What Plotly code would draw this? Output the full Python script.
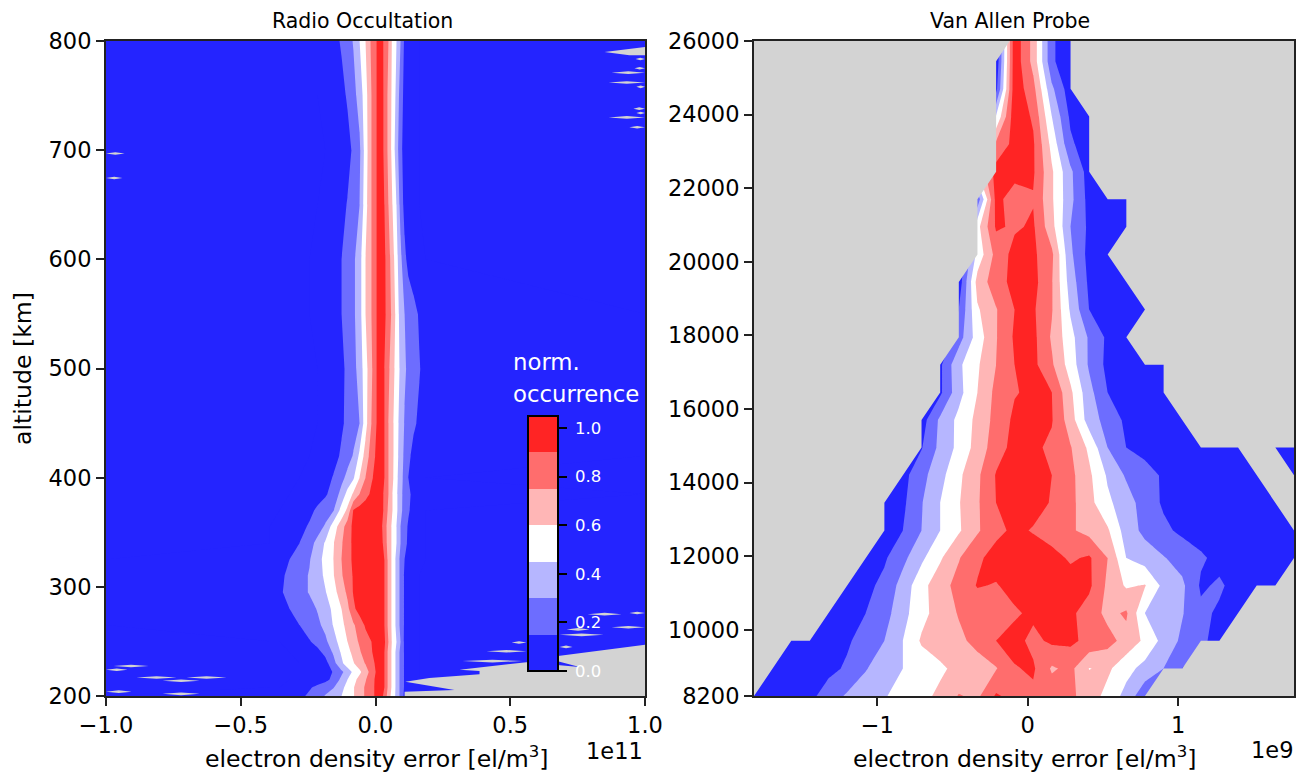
import plotly.graph_objects as go

# ---------- shared ----------
band_colors = ["#2424ff", "#6d6dff", "#b6b6ff", "#ffffff", "#ffb6b6", "#ff6d6d", "#ff2424"]
gray = "#d3d3d3"
cbar_ticks = [0.0, 0.2, 0.4, 0.6, 0.8, 1.0]
title_left = "Radio Occultation"
title_right = "Van Allen Probe"
xlabel = "electron density error [el/m<sup>3</sup>]"
ylabel = "altitude [km]"

# ---------- left panel: radio occultation (x in 1e11 el/m3) ----------
ro_x = [-1.0, -0.393, -0.356, -0.319, -0.282, -0.245, -0.215, -0.186, -0.156, -0.126, -0.104, -0.082, -0.059, -0.037,
        -0.015, 0.004, 0.019, 0.033, 0.048, 0.063, 0.078, 0.093, 0.108, 0.122, 0.141, 0.163, 0.186, 1.0]
ro_alt = [200, 208, 215, 222, 230, 240, 250, 265, 280, 295, 310, 325, 340, 355, 370, 385, 400, 420, 450, 500, 550,
          600, 650, 700, 750, 800]
ro_z = [
    [0, .01, .03, .07, .11, .18, .24, .31, .38, .45, .52, .59, .68, .77, .85, .94, .98, .85, .68, .53, .41, .26, .11, .05, .02, 0, 0, 0],
    [0, 0, 0, .01, .06, .13, .19, .24, .29, .41, .50, .59, .68, .77, .85, .94, 1.0, .90, .71, .56, .41, .26, .13, .06, .02, 0, 0, 0],
    [0, 0, 0, 0, 0, .02, .06, .11, .19, .34, .45, .55, .65, .74, .84, .94, 1.0, .90, .71, .56, .41, .26, .13, .06, .02, 0, 0, 0],
    [0, 0, 0, 0, 0, .01, .05, .09, .16, .27, .37, .48, .57, .68, .81, .92, 1.0, .90, .71, .56, .41, .26, .13, .06, .02, 0, 0, 0],
    [0, 0, 0, 0, 0, .02, .05, .10, .25, .42, .53, .59, .68, .76, .84, .94, 1.0, .90, .71, .56, .41, .26, .13, .06, .02, 0, 0, 0],
    [0, 0, 0, 0, .02, .07, .11, .19, .32, .47, .55, .64, .73, .82, .89, .95, 1.0, .90, .71, .56, .41, .26, .13, .06, .02, 0, 0, 0],
    [0, 0, 0, .01, .06, .14, .20, .27, .39, .52, .60, .69, .77, .84, .90, .96, 1.0, .93, .75, .57, .45, .30, .12, .05, .02, 0, 0, 0],
    [0, .01, .05, .10, .15, .22, .27, .34, .46, .56, .65, .73, .82, .92, .97, 1.0, .97, .90, .71, .56, .41, .26, .13, .06, .02, 0, 0, 0],
    [0, .03, .09, .15, .20, .25, .31, .39, .48, .60, .71, .87, .96, 1.0, 1.0, 1.0, .97, .90, .71, .56, .41, .26, .13, .06, .02, 0, 0, 0],
    [0, .05, .13, .19, .25, .31, .37, .44, .55, .67, .78, .91, .96, 1.0, 1.0, 1.0, .97, .90, .71, .56, .41, .26, .13, .06, .02, 0, 0, 0],
    [0, .04, .12, .18, .25, .31, .38, .48, .59, .73, .84, .91, .96, 1.0, 1.0, 1.0, .97, .90, .71, .56, .41, .26, .13, .06, .02, 0, 0, 0],
    [0, .02, .08, .15, .22, .29, .39, .50, .60, .75, .86, .92, .96, .99, 1.0, 1.0, .97, .90, .71, .56, .41, .26, .15, .08, .04, .01, 0, 0],
    [0, 0, .03, .09, .15, .25, .34, .47, .59, .73, .86, .92, .96, .99, 1.0, 1.0, .97, .85, .68, .57, .45, .30, .20, .12, .06, .02, 0, 0],
    [0, 0, .01, .05, .10, .17, .24, .32, .53, .68, .83, .93, .96, .98, 1.0, 1.0, .95, .83, .68, .57, .45, .30, .21, .13, .07, .02, 0, 0],
    [0, 0, 0, .01, .05, .11, .18, .23, .29, .51, .63, .91, .96, 1.0, 1.0, 1.0, .97, .87, .72, .60, .48, .34, .24, .17, .09, .03, 0, 0],
    [0, 0, 0, 0, .01, .04, .08, .13, .21, .35, .50, .62, .75, .84, .93, .97, .98, .87, .75, .60, .48, .34, .25, .19, .10, .04, .01, 0],
    [0, 0, 0, 0, 0, .02, .06, .10, .16, .26, .34, .43, .60, .75, .88, .95, .98, .90, .75, .63, .49, .36, .25, .15, .07, .02, 0, 0],
    [0, 0, 0, 0, 0, 0, .01, .05, .10, .17, .24, .31, .48, .66, .82, .93, .98, .90, .75, .63, .51, .37, .27, .19, .10, .04, .01, 0],
    [0, 0, 0, 0, 0, 0, 0, .03, .08, .13, .18, .24, .30, .54, .75, .90, .98, .90, .75, .63, .51, .39, .29, .24, .18, .12, .06, 0],
    [0, 0, 0, 0, 0, 0, 0, .03, .07, .12, .18, .25, .36, .54, .72, .90, .98, .90, .78, .66, .54, .42, .32, .27, .22, .16, .09, 0],
    [0, 0, 0, 0, 0, 0, .01, .04, .09, .15, .21, .27, .39, .60, .75, .90, .96, .93, .83, .71, .55, .38, .30, .26, .21, .13, .06, 0],
    [0, 0, 0, 0, 0, 0, .01, .04, .09, .15, .21, .27, .39, .60, .75, .90, .96, .93, .81, .67, .50, .34, .19, .10, .04, .01, 0, 0],
    [0, 0, 0, 0, 0, 0, 0, .01, .05, .10, .16, .22, .30, .54, .75, .90, .98, .90, .75, .60, .45, .25, .10, .04, .01, 0, 0, 0],
    [0, 0, 0, 0, 0, 0, 0, 0, .01, .04, .09, .18, .27, .52, .75, .90, .98, .87, .71, .55, .37, .20, .08, .03, .01, 0, 0, 0],
    [0, 0, 0, 0, 0, 0, 0, .01, .05, .10, .17, .25, .36, .54, .75, .90, .98, .87, .71, .56, .41, .23, .10, .04, .01, 0, 0, 0],
    [0, 0, 0, 0, 0, 0, 0, .03, .09, .17, .24, .31, .45, .60, .78, .90, .97, .87, .75, .57, .45, .30, .12, .05, .02, 0, 0, 0],
]
# empty (no occurrence) regions of the radio-occultation histogram
ro_empty_x = [.108, .108, .293, .111, .200, .386, .386, .312, .560, .757, .627, .757, .942, 1.0, 1.0]
ro_empty_alt = [200, 204, 205.5, 213, 216.5, 220, 223, 224, 231, 226.5, 235, 239, 245, 247, 200]
ro_top_x = [.850, .942, 1.0, 1.0, .942]
ro_top_alt = [790, 793, 794.5, 787, 787]
# thin empty slivers: altitude, x start, x end
sliver_alt = [275, 276, 263, 256, 261, 249, 245, 241, 232, 783.5, 775, 771, 762, 758, 738, 734, 730, 721,
              227.5, 224, 217, 217, 214, 204, 202, 697, 674.5]
sliver_x0 = [.787, .942, .876, .683, .709, .505, .683, .412, .323, .965, .961, .876, .865, .968, .957, .968, .865, .942,
             -.972, -1.0, -.887, -.701, -.790, -1.0, -.790, -1.0, -1.0]
sliver_x1 = [.913, 1.0, 1.0, .846, .794, .560, .731, .560, .545, 1.0, 1.0, 1.0, 1.0, 1.0, 1.0, 1.0, 1.0, 1.0,
             -.842, -.920, -.738, -.553, -.653, -.905, -.653, -.931, -.939]

# ---------- right panel: Van Allen Probe (x in 1e9 el/m3) ----------
vap_x = [-1.82, -1.696, -1.572, -1.449, -1.325, -1.201, -1.077, -0.953, -0.830, -0.706, -0.582, -0.458, -0.334, -0.210,
         -0.087, 0.037, 0.161, 0.285, 0.409, 0.532, 0.656, 0.780, 0.904, 1.028, 1.152, 1.275, 1.399, 1.523, 1.647, 1.771]
vap_alt = [8200, 8950, 9700, 10450, 11200, 11950, 12700, 13450, 14200, 14950, 15700, 16450, 17200, 17950, 18700, 19450,
           20200, 20950, 21700, 22450, 23200, 23950, 24700, 25450, 26200]
vap_z = [
    [0, .02, .06, .11, .22, .32, .38, .44, .50, .56, .63, .76, .72, .92, .85, .87, .84, .78, .68, .55, .40, .19, .05, 0, 0, 0, 0, 0, 0, 0],
    [0, .01, .03, .06, .11, .17, .29, .38, .45, .51, .575, .64, .69, .74, .89, .92, .73, .79, .595, .63, .50, .40, .30, .15, 0, 0, 0, 0, 0, 0],
    [0, .01, .02, .05, .09, .13, .21, .30, .45, .62, .67, .72, .79, .90, .95, .86, .93, .93, .86, .80, .70, .57, .40, .27, .19, .08, 0, 0, 0, 0],
    [0, 0, 0, .02, .05, .10, .15, .24, .40, .55, .67, .76, .80, .84, .88, .93, .96, .93, .83, .71, .77, .45, .37, .31, .18, .13, .03, 0, 0, 0],
    [0, 0, 0, 0, .03, .07, .11, .19, .36, .55, .69, .80, .91, .89, .95, .99, 1.0, .97, .93, .72, .58, .61, .41, .33, .13, .17, .10, .08, .04, 0],
    [0, 0, 0, 0, .01, .04, .08, .13, .26, .42, .58, .74, .87, .96, .98, .97, .95, .88, .92, .75, .45, .38, .31, .24, .17, .11, .08, .06, .04, .02],
    [0, 0, 0, 0, 0, .02, .05, .09, .15, .30, .45, .58, .73, .86, .93, .89, .83, .77, .70, .62, .38, .26, .18, .12, .09, .06, .04, .02, .01, 0],
    [0, 0, 0, 0, 0, 0, .02, .06, .12, .29, .45, .59, .73, .90, .96, .95, .89, .79, .65, .48, .37, .23, .13, .09, .06, .04, .02, .01, 0, 0],
    [0, 0, 0, 0, 0, 0, 0, .04, .10, .25, .40, .57, .72, .91, .97, .95, .90, .79, .63, .43, .28, .21, .13, .08, .05, .03, .02, 0, 0, 0],
    [0, 0, 0, 0, 0, 0, 0, 0, .02, .14, .34, .49, .66, .83, .95, .93, .87, .76, .57, .30, .15, .10, .07, .05, .03, .02, .01, 0, 0, 0],
    [0, 0, 0, 0, 0, 0, 0, 0, 0, .08, .33, .49, .64, .80, .93, .97, .91, .67, .38, .24, .12, .08, .05, .02, 0, 0, 0, 0, 0, 0],
    [0, 0, 0, 0, 0, 0, 0, 0, 0, 0, .12, .40, .60, .79, .89, .93, .90, .63, .35, .15, .09, .05, .02, 0, 0, 0, 0, 0, 0, 0],
    [0, 0, 0, 0, 0, 0, 0, 0, 0, 0, .12, .42, .58, .75, .90, .94, .77, .53, .28, .11, .07, .04, .01, 0, 0, 0, 0, 0, 0, 0],
    [0, 0, 0, 0, 0, 0, 0, 0, 0, 0, 0, .23, .52, .74, .92, .94, .73, .50, .28, .12, .07, .02, 0, 0, 0, 0, 0, 0, 0, 0],
    [0, 0, 0, 0, 0, 0, 0, 0, 0, 0, 0, .15, .58, .74, .90, .92, .76, .43, .15, .09, .04, 0, 0, 0, 0, 0, 0, 0, 0, 0],
    [0, 0, 0, 0, 0, 0, 0, 0, 0, 0, 0, .05, .66, .83, .95, .95, .76, .38, .12, .06, .02, 0, 0, 0, 0, 0, 0, 0, 0, 0],
    [0, 0, 0, 0, 0, 0, 0, 0, 0, 0, 0, 0, .50, .80, .95, .93, .78, .33, .10, .03, 0, 0, 0, 0, 0, 0, 0, 0, 0, 0],
    [0, 0, 0, 0, 0, 0, 0, 0, 0, 0, 0, 0, .55, .92, .88, .92, .65, .30, .12, .06, .02, 0, 0, 0, 0, 0, 0, 0, 0, 0],
    [0, 0, 0, 0, 0, 0, 0, 0, 0, 0, 0, 0, .20, .95, .82, .89, .62, .34, .10, .03, 0, 0, 0, 0, 0, 0, 0, 0, 0, 0],
    [0, 0, 0, 0, 0, 0, 0, 0, 0, 0, 0, 0, .60, .96, .96, .92, .62, .33, .08, 0, 0, 0, 0, 0, 0, 0, 0, 0, 0, 0],
    [0, 0, 0, 0, 0, 0, 0, 0, 0, 0, 0, 0, .30, .78, .95, .92, .55, .18, .05, 0, 0, 0, 0, 0, 0, 0, 0, 0, 0, 0],
    [0, 0, 0, 0, 0, 0, 0, 0, 0, 0, 0, 0, 0, .46, 1.0, .88, .45, .12, .04, 0, 0, 0, 0, 0, 0, 0, 0, 0, 0, 0],
    [0, 0, 0, 0, 0, 0, 0, 0, 0, 0, 0, 0, 0, .10, 1.0, .80, .33, .06, 0, 0, 0, 0, 0, 0, 0, 0, 0, 0, 0, 0],
    [0, 0, 0, 0, 0, 0, 0, 0, 0, 0, 0, 0, 0, .02, 1.0, .70, .18, .02, 0, 0, 0, 0, 0, 0, 0, 0, 0, 0, 0, 0],
    [0, 0, 0, 0, 0, 0, 0, 0, 0, 0, 0, 0, 0, 0, 1.0, .70, .18, .02, 0, 0, 0, 0, 0, 0, 0, 0, 0, 0, 0, 0],
]
# empty regions of the Van Allen Probe histogram as (column, row) grid indices
vap_empty_left = [(0, 24), (14, 24), (13, 23), (13, 19), (12, 18), (12, 16), (11, 15), (11, 13), (10, 12), (10, 11),
                  (9, 10), (9, 9), (8, 8), (7, 7), (7, 6), (6, 5), (5, 4), (4, 3), (3, 2), (2, 2), (1, 1), (0, 0)]
vap_empty_top = [(17, 24), (17, 22), (18, 21), (18, 19), (19, 18), (20, 18), (20, 17), (19, 16), (21, 14), (20, 13),
                 (21, 12), (22, 12), (22, 11), (23, 10), (24, 9), (26, 9), (27, 8), (28, 7), (29, 6), (29, 8), (28, 9),
                 (29, 9), (29, 24)]
vap_empty_bottom = [(29, 5), (28, 4), (27, 4), (26, 3), (25, 2), (24, 2), (23, 1), (22, 1), (21, 0), (29, 0)]

# ---------- figure ----------
# the page's body margin puts the figure 8 px in from the top-left corner
OFF = 8
W, H = 1309 - OFF, 773 - OFF


def fx(px):
    return (px - OFF) / W


def fy(py):
    return 1 - (py - OFF) / H


n_bands = len(band_colors)
band_scale = []
for i, c in enumerate(band_colors):
    band_scale += [[i / n_bands, c], [(i + 1) / n_bands, c]]
contour_opts = dict(
    autocontour=False,
    contours=dict(start=0, end=1.05, size=0.15, coloring="fill", showlines=False),
    line=dict(width=0, smoothing=0),
    colorscale=band_scale,
    zmin=0,
    zmax=1.05,
    zauto=False,
    hoverinfo="skip",
)
poly_opts = dict(mode="lines", fill="toself", fillcolor=gray, line=dict(width=0, color=gray),
                 hoverinfo="skip", showlegend=False)

fig = go.Figure()
fig.add_trace(go.Contour(
    x=ro_x, y=ro_alt, z=ro_z, xaxis="x", yaxis="y", **contour_opts,
    colorbar=dict(
        x=fx(528), xanchor="left", xpad=0, y=fy(671), yanchor="bottom", ypad=0,
        thickness=30, thicknessmode="pixels", len=255, lenmode="pixels",
        outlinecolor="black", outlinewidth=2, borderwidth=0,
        tickmode="array", tickvals=cbar_ticks, ticktext=["\u00a0%.1f" % t for t in cbar_ticks],
        ticks="outside", ticklen=8, tickwidth=1.5, tickcolor="black",
        tickfont=dict(family="DejaVu Sans", size=16.5, color="white"),
    ),
))
fig.add_trace(go.Contour(x=vap_x, y=vap_alt, z=vap_z, xaxis="x2", yaxis="y2", showscale=False, **contour_opts))

fig.add_trace(go.Scatter(x=ro_empty_x, y=ro_empty_alt, xaxis="x", yaxis="y", **poly_opts))
fig.add_trace(go.Scatter(x=ro_top_x, y=ro_top_alt, xaxis="x", yaxis="y", **poly_opts))
sx, sy = [], []
for alt, a, b in zip(sliver_alt, sliver_x0, sliver_x1):
    m = (a + b) / 2
    sx += [a, m, b, m, a, None]
    sy += [alt, alt + 1.2, alt, alt - 1.2, alt, None]
fig.add_trace(go.Scatter(x=sx, y=sy, xaxis="x", yaxis="y", **poly_opts))

for path in (vap_empty_left, vap_empty_top, vap_empty_bottom):
    fig.add_trace(go.Scatter(x=[vap_x[c] for c, r in path], y=[vap_alt[r] for c, r in path],
                             xaxis="x2", yaxis="y2", **poly_opts))

title_font = dict(family="DejaVu Sans", size=20.5, color="black")
label_font = dict(family="DejaVu Sans", size=23.6, color="black")
tick_font = dict(family="DejaVu Sans", size=22.5, color="black")
axis_common = dict(
    showgrid=False, zeroline=False, showline=True, mirror=True, linecolor="#222222", linewidth=2,
    ticks="outside", ticklen=8, tickwidth=1.5, tickcolor="#222222", tickfont=tick_font, layer="above traces",
    automargin=False,
)
fig.update_layout(
    width=W, height=H, autosize=False,
    margin=dict(l=0, r=0, t=0, b=0, pad=0, autoexpand=False),
    paper_bgcolor="white", plot_bgcolor=gray,
    showlegend=False, font=tick_font,
    xaxis=dict(domain=[fx(106), fx(645)], anchor="y", range=[-1, 1], tickmode="array",
               tickvals=[-1, -0.5, 0, 0.5, 1], ticktext=["\u22121.0", "\u22120.5", "0.0", "0.5", "1.0"],
               **axis_common),
    yaxis=dict(domain=[fy(696), fy(41)], anchor="x", range=[200, 800], tickmode="array",
               tickvals=[200, 300, 400, 500, 600, 700, 800],
               title=dict(text=ylabel, font=label_font, standoff=10), **axis_common),
    xaxis2=dict(domain=[fx(754), fx(1294)], anchor="y2", range=[-1.82, 1.771], tickmode="array",
                tickvals=[-1, 0, 1], ticktext=["\u22121", "0", "1"],
                **axis_common),
    yaxis2=dict(domain=[fy(696), fy(41)], anchor="x2", range=[8200, 26000], tickmode="array", tickformat="d",
                tickvals=[8200, 10000, 12000, 14000, 16000, 18000, 20000, 22000, 24000, 26000], **axis_common),
    annotations=[
        dict(text=title_left, xref="paper", yref="paper", x=fx(362), y=fy(21), xanchor="center", yanchor="middle",
             showarrow=False, font=title_font),
        dict(text=title_right, xref="paper", yref="paper", x=fx(1010), y=fy(21), xanchor="center", yanchor="middle",
             showarrow=False, font=title_font),
        dict(text=xlabel, xref="paper", yref="paper", x=fx(376.5), y=fy(757), xanchor="center", yanchor="middle",
             showarrow=False, font=label_font),
        dict(text=xlabel, xref="paper", yref="paper", x=fx(1024.5), y=fy(757), xanchor="center", yanchor="middle",
             showarrow=False, font=label_font),
        dict(text="1e11", xref="paper", yref="paper", x=fx(645), y=fy(751), xanchor="right", yanchor="middle",
             showarrow=False, font=tick_font),
        dict(text="1e9", xref="paper", yref="paper", x=fx(1295), y=fy(750), xanchor="right", yanchor="middle",
             showarrow=False, font=tick_font),
        dict(text="norm.", xref="paper", yref="paper", x=fx(511), y=fy(362), xanchor="left", yanchor="middle",
             showarrow=False, font=dict(family="DejaVu Sans", size=22.8, color="white")),
        dict(text="occurrence", xref="paper", yref="paper", x=fx(511), y=fy(394), xanchor="left", yanchor="middle",
             showarrow=False, font=dict(family="DejaVu Sans", size=22.8, color="white")),
    ],
)
fig.write_html("out.html")
